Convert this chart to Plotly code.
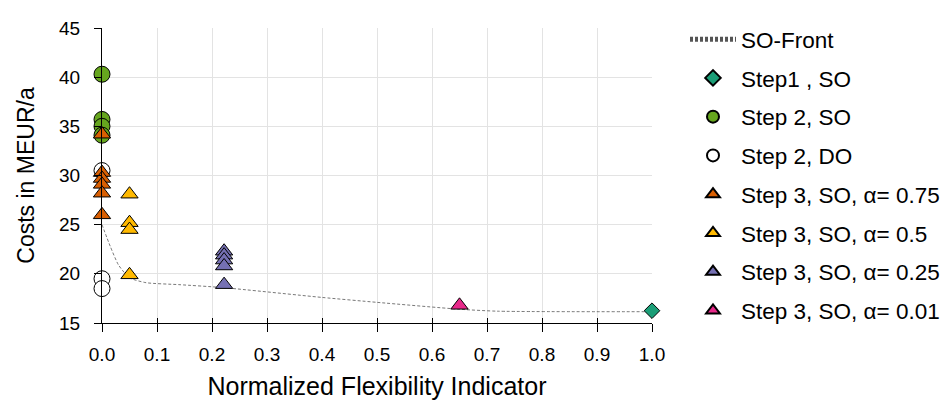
import plotly.graph_objects as go

# Pareto front of the single-objective (SO) runs
front_x = [0.0, 0.015, 0.03, 0.05, 0.08, 0.14, 0.22, 0.4, 0.5, 0.65, 0.72, 1.0]
front_y = [25.0, 22.8, 20.9, 19.6, 19.1, 18.9, 18.6, 17.6, 17.1, 16.4, 16.2, 16.15]

step1_x = [1.0]
step1_y = [16.25]

step2_so_x = [0.0, 0.0, 0.0, 0.0]
step2_so_y = [40.3, 35.7, 35.0, 34.1]

step2_do_x = [0.0, 0.0, 0.0]
step2_do_y = [30.5, 19.5, 18.5]

step3_075_x = [0.0, 0.0, 0.0, 0.0, 0.0, 0.0]
step3_075_y = [34.2, 30.3, 29.7, 29.1, 28.2, 26.0]

step3_05_x = [0.05, 0.05, 0.05, 0.05]
step3_05_y = [28.1, 25.2, 24.5, 19.9]

step3_025_x = [0.222, 0.222, 0.222, 0.222, 0.222]
step3_025_y = [22.3, 21.9, 21.4, 20.8, 18.9]

step3_001_x = [0.65]
step3_001_y = [16.8]

x_ticks = [0.0, 0.1, 0.2, 0.3, 0.4, 0.5, 0.6, 0.7, 0.8, 0.9, 1.0]
y_ticks = [15, 20, 25, 30, 35, 40, 45]

FONT = "Liberation Sans"
EDGE = dict(color="black", width=1)
W, H = 941, 400
PLOT_TOP, PLOT_BOTTOM = 28, 323  # pixel rows of the plotting area

fig = go.Figure()

fig.add_trace(go.Scatter(
    x=front_x, y=front_y, mode="lines", name="SO-Front", legendgroup="a",
    line=dict(color="#555555", width=0.8, dash="3px,2px", shape="spline", smoothing=0.6),
))


def add_points(x, y, name, symbol, color, size, group):
    fig.add_trace(go.Scatter(
        x=x, y=y, mode="markers", name=name, legendgroup=group,
        cliponaxis=False,
        marker=dict(symbol=symbol, color=color, size=size, line=EDGE),
    ))


add_points(step1_x, step1_y, "Step1 , SO", "diamond", "#1b9e77", 12, "b")
add_points(step2_so_x, step2_so_y, "Step 2, SO", "circle", "#66a61e", 16, "c")
add_points(step2_do_x, step2_do_y, "Step 2, DO", "circle", "white", 16, "d")
add_points(step3_075_x, step3_075_y, "Step 3, SO, α= 0.75", "triangle-up", "#d95f02", 15, "e")
add_points(step3_05_x, step3_05_y, "Step 3, SO, α= 0.5", "triangle-up", "#ffb900", 15, "f")
add_points(step3_025_x, step3_025_y, "Step 3, SO, α= 0.25", "triangle-up", "#7570b3", 15, "g")
add_points(step3_001_x, step3_001_y, "Step 3, SO, α= 0.01", "triangle-up", "#e7298a", 15, "h")

# invisible carrier so the inner tick axis is drawn
fig.add_trace(go.Scatter(x=[0.5], y=[30], xaxis="x2", mode="markers",
                         marker=dict(opacity=0), showlegend=False, hoverinfo="skip"))

y_domain = [(H - PLOT_BOTTOM) / H, (H - PLOT_TOP) / H]

fig.update_layout(
    width=W, height=H,
    margin=dict(l=102, r=289, t=0, b=0, autoexpand=False),
    paper_bgcolor="white", plot_bgcolor="white",
    font=dict(family=FONT, size=19, color="black"),
    xaxis=dict(
        range=[0.0, 1.0], tickvals=x_ticks, ticktext=[f"{v:.1f}" for v in x_ticks],
        showgrid=True, gridcolor="#e3e3e3", gridwidth=1, zeroline=False,
        showline=True, linecolor="black", linewidth=1,
        ticks="outside", ticklen=8, tickcolor="black", ticklabelstandoff=6,
        title=dict(text="Normalized Flexibility Indicator", font=dict(size=25), standoff=15),
    ),
    xaxis2=dict(
        range=[0.0, 1.0], tickvals=x_ticks, overlaying="x", side="bottom",
        showticklabels=False, showgrid=False, zeroline=False,
        ticks="inside", ticklen=5, tickcolor="black", anchor="y",
    ),
    yaxis=dict(
        range=[15, 45], tickvals=y_ticks, domain=y_domain,
        showgrid=True, gridcolor="#e3e3e3", gridwidth=1, zeroline=False,
        showline=True, linecolor="black", linewidth=1,
        ticks="outside", ticklen=7, tickcolor="black", ticklabelstandoff=10,
        title=dict(text="Costs in MEUR/a", font=dict(size=23), standoff=18),
    ),
    legend=dict(
        x=1.06, y=(H - 18) / H, xanchor="left", yanchor="top",
        font=dict(size=22.5), itemsizing="constant", itemwidth=46,
        tracegroupgap=6.5, bgcolor="rgba(0,0,0,0)",
    ),
    showlegend=True,
)

fig.write_html("out.html")
